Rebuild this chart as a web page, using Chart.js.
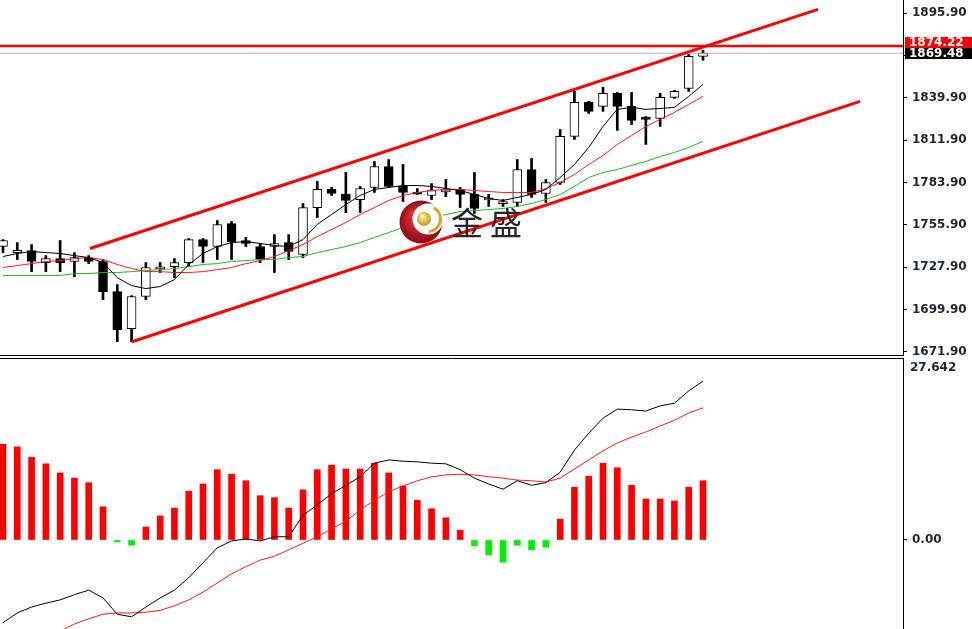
<!DOCTYPE html>
<html>
<head>
<meta charset="utf-8">
<script src="https://cdn.jsdelivr.net/npm/chart.js@4/dist/chart.umd.min.js"></script>
<style>
  html, body { margin: 0; padding: 0; background: #fff; }
  #wrap { position: relative; width: 972px; height: 629px; overflow: hidden; }
  #priceChart { position: absolute; left: 0; top: 0; }
  #macdChart { position: absolute; left: 0; top: 358px; }
</style>
</head>
<body>
<div id="wrap">
  <canvas id="priceChart" width="972" height="360"></canvas>
  <canvas id="macdChart" width="972" height="271"></canvas>
</div>
<script>
/* Gold daily — candles, 3 MAs, channel + MACD panel */

// ---- data ----
const open  = [1741.5,1737.5,1738.8,1730.9,1733.5,1731.6,1734.2,1731.6,1711.7,1687.1,
               1708.4,1726.6,1728.2,1730.9,1746.1,1741.5,1756.7,1745.5,1741.5,1741.5,
               1744.1,1736.2,1767.3,1779.3,1776.0,1772.6,1780.6,1794.5,1781.3,1777.6,
               1775.3,1777.6,1779.3,1776.0,1772.3,1769.8,1770.7,1792.5,1776.6,1783.9,
               1814.4,1836.9,1834.3,1842.9,1834.3,1827.2,1826.3,1840.2,1846.2,1867.4];
const high  = [1746.1,1744.1,1742.8,1735.5,1745.5,1737.5,1735.5,1732.9,1716.3,1709.0,
               1730.9,1730.9,1733.5,1746.8,1746.8,1758.7,1758.1,1747.5,1743.5,1749.4,
               1749.4,1770.0,1784.6,1780.6,1790.5,1781.3,1797.8,1799.1,1795.8,1779.9,
               1783.2,1785.9,1780.6,1790.5,1776.0,1772.6,1799.1,1799.8,1785.9,1819.0,
               1844.2,1837.6,1846.9,1843.5,1843.5,1827.6,1842.9,1844.9,1868.7,1871.4];
const low   = [1737.5,1732.9,1724.9,1724.9,1724.9,1721.6,1730.2,1706.4,1678.5,1678.5,
               1706.4,1724.3,1720.9,1728.2,1730.9,1732.9,1732.9,1741.5,1730.9,1724.3,
               1732.9,1734.2,1760.7,1775.3,1764.0,1764.0,1777.3,1780.6,1771.3,1776.0,
               1772.6,1774.6,1767.3,1763.4,1768.0,1768.0,1768.0,1774.0,1770.7,1782.6,
               1812.4,1829.6,1831.0,1818.4,1822.3,1809.1,1821.0,1839.6,1844.2,1864.8];
const close = [1745.5,1739.0,1731.6,1733.5,1730.9,1734.2,1731.6,1711.7,1686.5,1708.4,
               1727.6,1728.0,1730.9,1746.1,1741.5,1756.1,1744.8,1743.5,1732.9,1743.5,
               1738.2,1767.3,1779.3,1776.6,1772.0,1779.9,1794.5,1781.3,1777.3,1776.2,
               1778.6,1779.0,1776.0,1766.7,1773.7,1771.3,1792.5,1776.0,1783.9,1814.4,
               1836.9,1831.0,1842.9,1834.3,1825.0,1825.7,1840.2,1844.2,1867.4,1869.48];

const maBlack = [1734.9,1736.9,1738.2,1737.5,1736.9,1735.5,1734.2,1730.9,1720.9,1715.6,
                 1713.7,1715.0,1719.6,1729.6,1736.9,1741.5,1744.1,1744.8,1743.5,1742.2,
                 1741.5,1746.1,1756.1,1762.7,1769.3,1775.3,1779.3,1780.6,1781.9,1781.9,
                 1781.3,1779.9,1778.6,1776.0,1773.3,1772.0,1774.0,1776.0,1779.3,1787.2,
                 1795.8,1807.1,1821.0,1832.3,1833.6,1832.3,1832.9,1833.6,1840.9,1848.8];
const maRed   = [1727.6,1728.9,1730.2,1731.6,1732.2,1733.5,1734.2,1732.9,1729.6,1726.9,
                 1724.9,1724.9,1724.3,1724.3,1724.9,1726.2,1727.6,1730.2,1732.2,1734.9,
                 1738.8,1742.8,1748.1,1752.8,1757.4,1762.7,1767.3,1772.0,1775.3,1777.3,
                 1778.6,1779.3,1779.3,1778.6,1777.9,1777.3,1777.3,1777.3,1779.9,1783.9,
                 1789.2,1795.8,1801.8,1809.1,1815.0,1821.0,1825.7,1830.3,1835.6,1840.9];
const maGreen = [1722.3,1722.3,1722.3,1722.3,1722.3,1723.6,1723.6,1724.3,1724.3,1724.9,
                 1725.6,1726.2,1726.9,1728.2,1729.6,1730.2,1731.6,1732.2,1732.9,1732.9,
                 1734.2,1734.9,1737.5,1739.5,1741.5,1744.1,1747.5,1750.8,1754.1,1758.1,
                 1760.7,1762.7,1764.7,1765.3,1766.0,1766.7,1768.0,1770.0,1772.6,1776.0,
                 1781.3,1787.2,1790.5,1792.5,1795.2,1797.8,1801.1,1803.8,1807.1,1811.1];

// channel: [bar index, price] end points
const upperChannel = [{ x: 6.09, y: 1740.2 }, { x: 57.05, y: 1898.5 }];
const lowerChannel = [{ x: 9.03, y: 1678.5 }, { x: 59.99, y: 1837.6 }];
const resistLevel = 1874.22;
const lastPrice = 1869.48;

const priceTicks = [1671.9, 1699.9, 1727.9, 1755.9, 1783.9, 1811.9, 1839.9, 1867.9, 1895.9];

const macdHist = [14.7,14.3,12.7,11.7,10.3,9.5,8.8,5.1,-0.3,-0.8,
                  2.0,3.7,4.9,7.5,8.6,10.8,10.1,9.1,6.8,6.5,
                  4.9,7.7,10.8,11.5,10.9,10.9,11.8,10.3,8.3,6.1,
                  4.8,3.4,1.5,-0.9,-2.3,-3.4,-0.8,-1.5,-1.1,3.2,
                  8.1,9.8,11.8,11.1,8.4,6.3,6.3,6.0,8.1,9.1];
const macdLine = [-12.7,-11.2,-10.3,-9.7,-9.2,-8.4,-7.7,-8.9,-11.4,-11.8,
                  -10.3,-8.9,-7.7,-5.8,-3.5,-1.2,-0.15,0.15,-0.15,0.5,
                  0.5,3.8,5.4,7.1,8.4,9.7,11.8,12.3,12.1,12.0,
                  11.8,11.7,10.8,9.5,8.6,7.8,9.1,8.4,8.8,10.4,
                  13.8,16.4,18.7,20.1,20.0,19.8,20.6,21.0,22.9,24.4];
const signalLine = [-17.5,-16.6,-15.8,-14.9,-14.0,-12.9,-12.1,-11.4,-11.2,-11.2,
                    -11.1,-10.8,-10.1,-9.2,-8.0,-6.6,-5.2,-4.1,-3.1,-2.5,
                    -1.5,-0.5,0.5,1.7,2.9,4.6,6.1,7.4,8.3,9.1,
                    9.7,10.0,10.1,10.0,9.7,9.5,9.2,9.1,8.9,9.5,
                    10.9,12.3,13.7,14.9,15.8,16.6,17.5,18.4,19.5,20.3];
const macdMax = 27.642;

// ---- helpers ----
const labelFont = { family: 'DejaVu Sans', size: 12, weight: 'bold' };
const labelColor = '#1e2430';
const idx = open.map((_, i) => i);
const pts = arr => arr.map((v, i) => ({ x: i, y: v }));
const xAxis = { type: 'linear', min: -0.21, max: 63.0, display: false, offset: false };

function rightAxis(extra) {
  return Object.assign({
    position: 'right',
    beginAtZero: false,
    afterFit: s => { s.width = 69; s.paddingTop = 0; s.paddingBottom = 0; },
    ticks: { color: labelColor, font: labelFont, padding: 5, autoSkip: false, callback: v => v.toFixed(2) },
    grid: { drawOnChartArea: false, tickLength: 4, color: '#000' },
    border: { display: true, color: '#000', width: 1 }
  }, extra);
}

const lineDs = (data, color, width, order) => ({
  type: 'line', data, borderColor: color, borderWidth: width,
  pointRadius: 0, tension: 0, fill: false, order
});

// price tags, separator, watermark
const priceDecor = {
  id: 'priceDecor',
  afterDatasetsDraw(chart) {
    const { ctx } = chart;
    ctx.save();
    // logo
    const cx = 421, cy = 222;
    let g = ctx.createRadialGradient(cx - 6, cy - 8, 2, cx, cy, 22);
    g.addColorStop(0, '#e8353c'); g.addColorStop(1, '#8c0a12');
    ctx.fillStyle = g;
    ctx.beginPath(); ctx.arc(cx, cy, 21.5, 0, Math.PI * 2); ctx.fill();
    ctx.fillStyle = '#fff';
    ctx.beginPath(); ctx.arc(cx + 7, cy - 3, 15.5, 0, Math.PI * 2); ctx.fill();
    ctx.strokeStyle = '#d9a628'; ctx.lineWidth = 3;
    ctx.beginPath(); ctx.arc(cx + 7, cy - 3, 12.5, -1.1, 1.5); ctx.stroke();
    g = ctx.createRadialGradient(cx + 1, cy - 6, 1, cx + 3, cy - 3, 8);
    g.addColorStop(0, '#fff0a0'); g.addColorStop(1, '#c08a10');
    ctx.fillStyle = g;
    ctx.beginPath(); ctx.arc(cx + 3, cy - 3, 7, 0, Math.PI * 2); ctx.fill();
    // name
    ctx.fillStyle = '#262626';
    ctx.font = '32px "Noto Sans CJK SC"';
    ctx.textAlign = 'center'; ctx.textBaseline = 'middle';
    ctx.fillText('金', 467, 223);
    ctx.fillText('盛', 506, 223);
    ctx.restore();
  },
  afterDraw(chart) {
    const { ctx, chartArea, scales: { y } } = chart;
    ctx.save();
    ctx.strokeStyle = '#000'; ctx.lineWidth = 1;
    ctx.beginPath();
    ctx.moveTo(0, chartArea.bottom + 0.5); ctx.lineTo(chartArea.right, chartArea.bottom + 0.5);
    ctx.stroke();
    const by = Math.round(y.getPixelForValue(lastPrice));
    const ry = Math.min(Math.round(y.getPixelForValue(resistLevel)), by - 10);
    ctx.font = 'bold 12px "DejaVu Sans"';
    ctx.textBaseline = 'middle'; ctx.textAlign = 'left';
    ctx.fillStyle = '#000'; ctx.fillRect(905, by - 5, 67, 11);
    ctx.fillStyle = '#fff'; ctx.fillText(lastPrice.toFixed(2), 909, by + 1);
    ctx.fillStyle = '#ff0000'; ctx.fillRect(905, ry - 6, 67, 11);
    ctx.fillStyle = '#fff'; ctx.fillText(resistLevel.toFixed(2), 909, ry);
    ctx.restore();
  }
};

new Chart(document.getElementById('priceChart'), {
  type: 'bar',
  data: {
    datasets: [
      lineDs(upperChannel, '#ff0000', 3, 1),
      lineDs(lowerChannel, '#ff0000', 3, 1),
      lineDs([{ x: -1, y: resistLevel }, { x: 64, y: resistLevel }], '#ff0000', 2.5, 2),
      lineDs([{ x: -1, y: lastPrice }, { x: 64, y: lastPrice }], '#b4b4b4', 1, 4),
      lineDs(pts(maBlack), '#000000', 1, 3),
      lineDs(pts(maRed), '#ff1a1a', 1, 3),
      lineDs(pts(maGreen), '#1fb81f', 1, 3),
      {
        type: 'bar', data: idx.map(i => ({ x: i, y: [open[i], close[i]] })),
        backgroundColor: idx.map(i => close[i] >= open[i] ? '#ffffff' : '#000000'),
        borderColor: '#000', borderWidth: 1, borderSkipped: false,
        barThickness: 9, grouped: false, order: 5
      },
      {
        type: 'bar', data: idx.map(i => ({ x: i, y: [low[i], high[i]] })),
        backgroundColor: '#000', borderWidth: 0, barThickness: 2, grouped: false, order: 6
      }
    ]
  },
  options: {
    responsive: false, animation: false,
    layout: { padding: { top: 0, bottom: 5, left: 0, right: 0 } },
    plugins: { legend: { display: false }, tooltip: { enabled: false } },
    scales: {
      x: xAxis,
      y: rightAxis({
        min: 1669.7, max: 1904.7,
        afterBuildTicks: s => { s.ticks = priceTicks.map(v => ({ value: v })); }
      })
    }
  },
  plugins: [priceDecor]
});

const macdDecor = {
  id: 'macdDecor',
  afterDraw(chart) {
    const { ctx, chartArea } = chart;
    ctx.save();
    ctx.strokeStyle = '#000'; ctx.lineWidth = 1;
    ctx.beginPath();
    ctx.moveTo(0, chartArea.top + 0.5); ctx.lineTo(chartArea.right, chartArea.top + 0.5);
    ctx.stroke();
    ctx.font = 'bold 12px "DejaVu Sans"';
    ctx.fillStyle = labelColor; ctx.textBaseline = 'middle';
    ctx.fillText(macdMax.toFixed(3), 910, chartArea.top + 10);
    ctx.restore();
  }
};

new Chart(document.getElementById('macdChart'), {
  type: 'bar',
  data: {
    datasets: [
      lineDs(pts(macdLine), '#000000', 1, 1),
      lineDs(pts(signalLine), '#ff1a1a', 1, 2),
      {
        type: 'bar', data: pts(macdHist),
        backgroundColor: macdHist.map(v => v >= 0 ? '#ff0000' : '#00ee00'),
        borderWidth: 0, barThickness: 6, grouped: false, order: 3
      }
    ]
  },
  options: {
    responsive: false, animation: false,
    layout: { padding: 0 },
    plugins: { legend: { display: false }, tooltip: { enabled: false } },
    scales: {
      x: xAxis,
      y: rightAxis({
        min: -13.67, max: 27.95,
        afterBuildTicks: s => { s.ticks = [{ value: 0 }]; }
      })
    }
  },
  plugins: [macdDecor]
});
</script>
</body>
</html>
